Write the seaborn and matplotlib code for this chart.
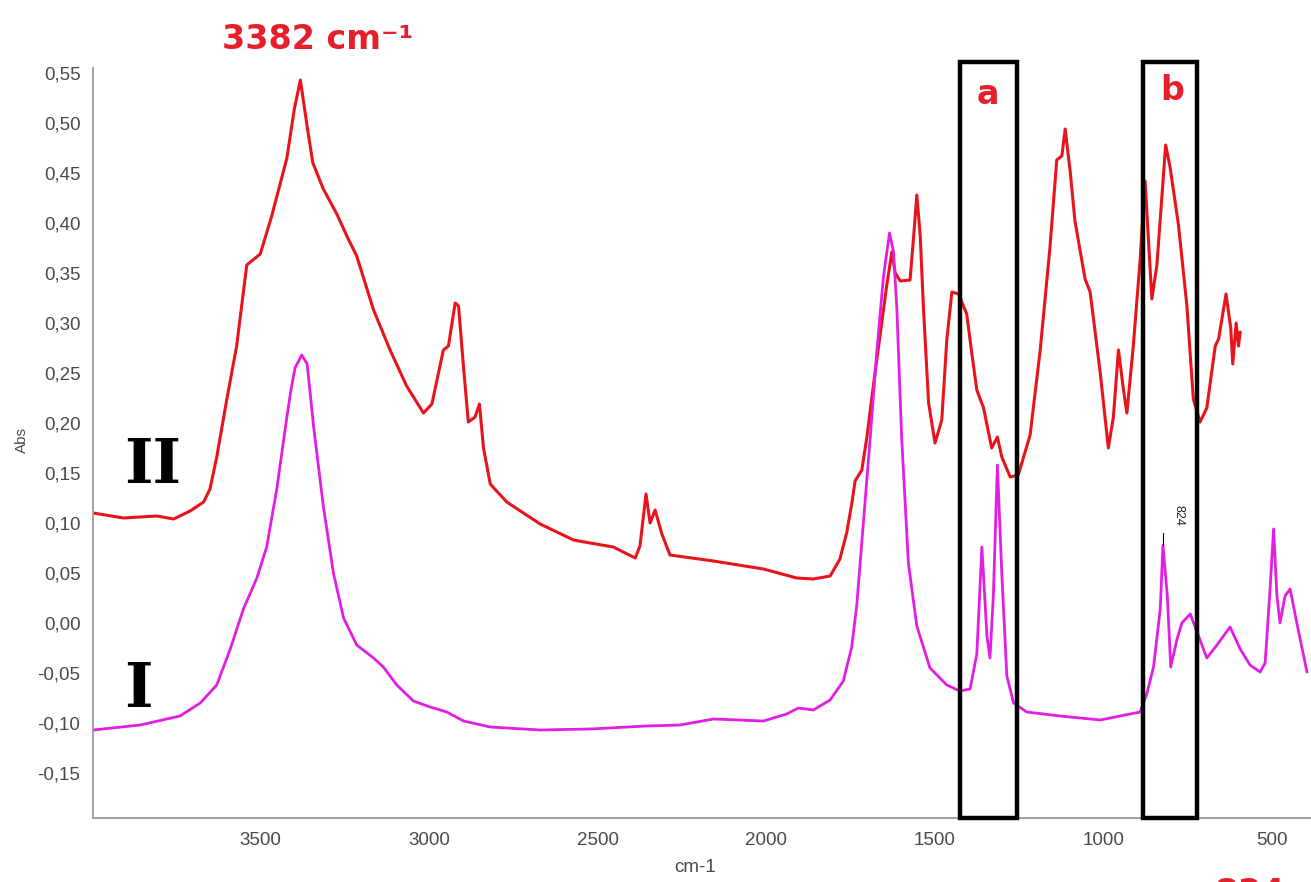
import matplotlib
matplotlib.use("Agg")
import matplotlib.pyplot as plt
import pandas as pd
import seaborn as sns
from matplotlib.patches import Rectangle
from matplotlib.ticker import FixedLocator, MultipleLocator, FuncFormatter

# FTIR spectrum II (upper trace), wavenumber in cm-1 and absorbance
red_wn = [3996, 3907, 3808, 3758, 3709, 3669, 3650, 3630, 3600, 3571, 3551, 3541,
          3501, 3467, 3422, 3400, 3382, 3360, 3345, 3314, 3274, 3240, 3215, 3165,
          3116, 3067, 3017, 2992, 2958, 2943, 2923, 2913, 2898, 2884, 2864, 2851,
          2839, 2819, 2770, 2671, 2572, 2523, 2454, 2389, 2375, 2357, 2345, 2330,
          2310, 2286, 2157, 2009, 1910, 1861, 1811, 1782, 1762, 1747, 1737, 1717,
          1702, 1683, 1658, 1643, 1628, 1618, 1603, 1574, 1564, 1554, 1544, 1534,
          1519, 1500, 1480, 1465, 1450, 1430, 1406, 1391, 1376, 1356, 1332, 1315,
          1302, 1277, 1253, 1218, 1188, 1159, 1139, 1124, 1114, 1099, 1085, 1055,
          1040, 1010, 986, 971, 956, 941, 931, 912, 892, 877, 857, 842, 816, 803,
          778, 753, 734, 714, 694, 669, 659, 637, 623, 617, 607, 600, 595]
red_abs = [0.110, 0.105, 0.107, 0.104, 0.112, 0.121, 0.134, 0.166, 0.224, 0.277, 0.331, 0.358,
           0.369, 0.407, 0.465, 0.514, 0.543, 0.492, 0.460, 0.434, 0.409, 0.384, 0.367, 0.313,
           0.273, 0.237, 0.210, 0.219, 0.273, 0.277, 0.320, 0.317, 0.255, 0.201, 0.206, 0.219,
           0.175, 0.139, 0.121, 0.099, 0.083, 0.080, 0.076, 0.065, 0.077, 0.129, 0.100, 0.113,
           0.089, 0.068, 0.062, 0.054, 0.045, 0.044, 0.047, 0.064, 0.090, 0.119, 0.142, 0.153,
           0.186, 0.237, 0.300, 0.338, 0.371, 0.350, 0.342, 0.343, 0.384, 0.428, 0.388, 0.313,
           0.220, 0.180, 0.203, 0.283, 0.331, 0.329, 0.309, 0.270, 0.233, 0.215, 0.175, 0.186,
           0.166, 0.146, 0.148, 0.188, 0.273, 0.376, 0.463, 0.467, 0.494, 0.451, 0.402, 0.344,
           0.331, 0.250, 0.175, 0.206, 0.273, 0.233, 0.210, 0.277, 0.362, 0.442, 0.324, 0.358,
           0.478, 0.456, 0.398, 0.317, 0.224, 0.201, 0.215, 0.277, 0.284, 0.329, 0.295, 0.259,
           0.300, 0.277, 0.291]

# FTIR spectrum I (lower trace)
mag_wn = [3996, 3857, 3739, 3679, 3630, 3590, 3551, 3511, 3482, 3452, 3422, 3410,
          3398, 3378, 3362, 3353, 3343, 3314, 3284, 3254, 3215, 3165, 3136, 3096,
          3047, 2997, 2948, 2898, 2819, 2671, 2523, 2355, 2256, 2157, 2009, 1940,
          1905, 1861, 1811, 1772, 1747, 1732, 1712, 1692, 1673, 1653, 1635, 1623,
          1613, 1599, 1579, 1554, 1515, 1465, 1426, 1396, 1376, 1361, 1346, 1337,
          1327, 1315, 1302, 1287, 1267, 1228, 1129, 1010, 892, 872, 852, 832,
          824, 811, 801, 783, 768, 743, 724, 694, 664, 625, 595, 566,
          536, 521, 506, 496, 486, 477, 462, 447, 427, 397]
mag_abs = [-0.107, -0.102, -0.093, -0.080, -0.062, -0.026, 0.014, 0.045, 0.076, 0.134, 0.206, 0.233,
           0.255, 0.268, 0.259, 0.230, 0.197, 0.117, 0.050, 0.005, -0.022, -0.035, -0.044, -0.062,
           -0.078, -0.084, -0.089, -0.098, -0.104, -0.107, -0.106, -0.103, -0.102, -0.096, -0.098, -0.091,
           -0.085, -0.087, -0.077, -0.058, -0.024, 0.018, 0.102, 0.186, 0.270, 0.346, 0.390, 0.371,
           0.313, 0.186, 0.060, -0.003, -0.045, -0.062, -0.068, -0.066, -0.031, 0.076, -0.013, -0.035,
           0.027, 0.158, 0.050, -0.053, -0.080, -0.089, -0.093, -0.097, -0.089, -0.071, -0.044, 0.014,
           0.078, 0.027, -0.044, -0.017, 0.000, 0.009, -0.008, -0.035, -0.022, -0.004, -0.026, -0.042,
           -0.049, -0.040, 0.036, 0.094, 0.027, 0.000, 0.027, 0.034, 0.000, -0.049]

x_ticks = [3500, 3000, 2500, 2000, 1500, 1000, 500]
y_ticks = [-0.15, -0.10, -0.05, 0.00, 0.05, 0.10, 0.15, 0.20, 0.25, 0.30,
           0.35, 0.40, 0.45, 0.50, 0.55]

# highlighted regions (cm-1)
box_a = (1257, 1426)
box_b = (723, 883)
peak_label_wn = 824
peak_label_abs = 0.078

sns.set_theme(style="white")
plt.rcParams['font.family'] = ['Liberation Sans', 'DejaVu Sans']

W, H = 1311, 882
fig = plt.figure(figsize=(W / 100, H / 100), dpi=100)
ax = fig.add_axes([93 / W, (H - 818) / H, (W - 93) / W, 750 / H])

red_df = pd.DataFrame({"wn": red_wn, "abs": red_abs})
mag_df = pd.DataFrame({"wn": mag_wn, "abs": mag_abs})
sns.lineplot(data=red_df, x="wn", y="abs", ax=ax, color="#e8141c", lw=2.2,
             sort=False, estimator=None)
sns.lineplot(data=mag_df, x="wn", y="abs", ax=ax, color="#e21ee4", lw=2.0,
             sort=False, estimator=None)

ax.set_xlim(3997, 385)
ax.set_ylim(-0.195, 0.555)

ax.xaxis.set_major_locator(FixedLocator(x_ticks))
ax.yaxis.set_major_locator(FixedLocator(y_ticks))
ax.xaxis.set_minor_locator(MultipleLocator(100))
ax.yaxis.set_minor_locator(MultipleLocator(0.01))
ax.xaxis.set_major_formatter(FuncFormatter(lambda v, p: f"{int(round(v))}"))
ax.yaxis.set_major_formatter(
    FuncFormatter(lambda v, p: f"{(0.0 if abs(v) < 1e-9 else v):.2f}".replace(".", ",")))

for side in ("top", "right"):
    ax.spines[side].set_visible(False)
for side in ("left", "bottom"):
    ax.spines[side].set_color("#9a9a9a")
    ax.spines[side].set_linewidth(1.3)

ax.tick_params(which="major", direction="out", length=3, width=1.2, color="#8a8a8a",
               labelsize=13.5, labelcolor="#4a4a4a")
ax.tick_params(which="minor", direction="out", length=2, width=0.8, color="#a0a0a0")
ax.tick_params(axis="y", which="major", pad=6)
ax.tick_params(axis="x", which="major", pad=7)
ax.set_xlabel("")
ax.set_ylabel("")

fig.text(22 / W, 1 - 440 / H, "Abs", rotation=90, ha="center", va="center",
         fontsize=11, color="#4a4a4a")
fig.text(695 / W, 1 - 867 / H, "cm-1", ha="center", va="center",
         fontsize=13.5, color="#4a4a4a")

# highlight boxes
for lo, hi in (box_a, box_b):
    ax.add_patch(Rectangle((lo, -0.195), hi - lo, 0.561 + 0.195, fill=False,
                           ec="black", lw=3.2, clip_on=False, zorder=5))

# peak marker for 824 cm-1
ax.plot([peak_label_wn, peak_label_wn], [peak_label_abs, peak_label_abs + 0.012],
        color="black", lw=0.8)
ax.text(779, 0.108, str(peak_label_wn), rotation=-90, ha="center", va="center",
        fontsize=9, color="#222222")

red_txt = "#e5202a"
fig.text(222 / W, 1 - 49 / H, "3382 cm\u207b\u00b9", ha="left", va="baseline",
         fontsize=24, fontweight="bold", color=red_txt, family="DejaVu Sans")
fig.text(988 / W, 1 - 95 / H, "a", ha="center", va="center",
         fontsize=24, fontweight="bold", color=red_txt, family="DejaVu Sans")
fig.text(1172 / W, 1 - 91 / H, "b", ha="center", va="center",
         fontsize=24, fontweight="bold", color=red_txt, family="DejaVu Sans")
fig.text(1215 / W, 1 - 877 / H, "824 cm\u207b\u00b9", ha="left", va="top",
         fontsize=24, fontweight="bold", color=red_txt, family="DejaVu Sans")

fig.text(124 / W, 1 - 483 / H, "II", ha="left", va="baseline",
         fontsize=44, fontweight="bold", color="black", family="DejaVu Serif")
fig.text(124 / W, 1 - 707 / H, "I", ha="left", va="baseline",
         fontsize=44, fontweight="bold", color="black", family="DejaVu Serif")

fig.savefig("out.png", dpi=100, facecolor="white")
